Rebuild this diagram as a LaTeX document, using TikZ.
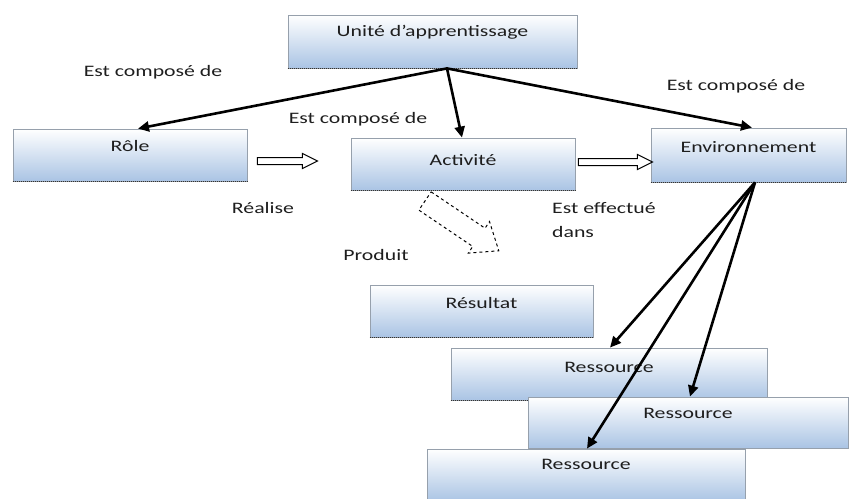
\documentclass[tikz,border=0pt]{standalone}
\usepackage{fontspec}
\setmainfont{Carlito}
\usepackage{graphicx}
\usetikzlibrary{arrows.meta,calc}
\definecolor{boxblue}{RGB}{170,196,228}
\definecolor{boxline}{RGB}{150,160,172}
\definecolor{inkgray}{RGB}{30,30,30}
% wide lettering used throughout the diagram
\newcommand\wtxt[1]{\scalebox{1.36}[1]{#1}}

\tikzset{
  box/.style={draw=boxline, line width=0.8pt, top color=white, bottom color=boxblue, inner sep=0pt},
  boxtext/.style={anchor=center, yshift=-#1, inner sep=0pt},
  dotedge/.style={draw=black!80, line width=1.2pt, dash pattern=on 1pt off 1pt},
  rel/.style={draw=black, line width=2.6pt, -{Triangle[length=11pt,width=10pt]}},
  lbl/.style={inner sep=0pt},
  hollow/.style={draw=black, fill=white, line width=1pt},
  pics/hollowarrow/.style n args={4}{code={
    \path[pic actions] (0,-#2) -- ({#1-#4},-#2) -- ({#1-#4},-#3) -- (#1,0)
      -- ({#1-#4},#3) -- ({#1-#4},#2) -- (0,#2) -- cycle;
  }}
}

\begin{document}
\begin{tikzpicture}[x=1pt,y=-1pt,font=\fontsize{16}{19}\selectfont,text=inkgray]
\useasboundingbox (0,0) rectangle (853,498);

% boxes
\node[box, minimum width=289pt, minimum height=53pt,
  label={[boxtext=18pt]north:\wtxt{Unité d’apprentissage}}] (unite) at (432.5,41.5) {};
\node[box, minimum width=234pt, minimum height=52pt,
  label={[boxtext=17pt]north:\wtxt{Rôle}}] (role) at (130,155) {};
\node[box, minimum width=224pt, minimum height=52pt,
  label={[boxtext=22pt]north:\wtxt{Activité}}] (activite) at (463,164) {};
\node[box, minimum width=195pt, minimum height=54pt,
  label={[boxtext=19pt]north:\wtxt{Environnement}}] (env) at (748.5,155) {};
\node[box, minimum width=223pt, minimum height=52pt,
  label={[boxtext=18pt]north:\wtxt{Résultat}}] (resultat) at (481.5,311) {};
\foreach \b in {unite,role,activite,env,resultat}
  \draw[dotedge] (\b.south west) -- (\b.south east);

\node[box, minimum width=316pt, minimum height=52pt,
  label={[boxtext=20pt]north:\wtxt{Ressource}}] (resA) at (609,374) {};
\draw[dotedge] (resA.south west) -- (resA.south east);
\node[box, minimum width=320pt, minimum height=51pt,
  label={[boxtext=17pt]north:\wtxt{Ressource}}] (resB) at (688,422.5) {};
\node[box, minimum width=318pt, minimum height=52pt,
  label={[boxtext=16pt]north:\wtxt{Ressource}}] (resC) at (586,475) {};

% composition arrows
\coordinate (u0) at ([xshift=14.5pt]unite.south);
\draw[rel] (u0) -- ([xshift=8pt]role.north);
\draw[rel] (u0) -- ([xshift=-1pt]activite.north);
\draw[rel] (u0) -- ([xshift=3.5pt]env.north);

\coordinate (e0) at ([xshift=6.5pt]env.south);
\draw[rel] (e0) -- ([xshift=1pt]resA.north);
\draw[rel] (e0) -- ([xshift=2pt]resB.north);
\draw[rel] (e0) -- ([xshift=1pt]resC.north);

% hollow relation arrows
\coordinate (ra) at ($(role.east)+(10,6)$);
\coordinate (ae) at ($(activite.east)+(3,-2)$);
\coordinate (ar) at (425,201);
\pic[hollow] at (ra) {hollowarrow={60}{3.5}{7.5}{15}};
\pic[hollow] at (ae) {hollowarrow={74}{3.5}{7.5}{15}};
\pic[hollow, dashed, rotate=-34] at (ar) {hollowarrow={89}{11}{19}{24}};

% relation labels
\node[lbl] (c1) at (153,72) {\wtxt{Est composé de}};
\node[lbl] (c2) at (358,119) {\wtxt{Est composé de}};
\node[lbl] (c3) at (736,86) {\wtxt{Est composé de}};
\node[lbl] (real) at (263,208) {\wtxt{Réalise}};
\node[lbl, anchor=west] (eff) at (552,208) {\wtxt{Est effectué}};
\node[lbl, anchor=west] (dans) at (552,232) {\wtxt{dans}};
\node[lbl] (prod) at (376,255) {\wtxt{Produit}};
\end{tikzpicture}
\end{document}
